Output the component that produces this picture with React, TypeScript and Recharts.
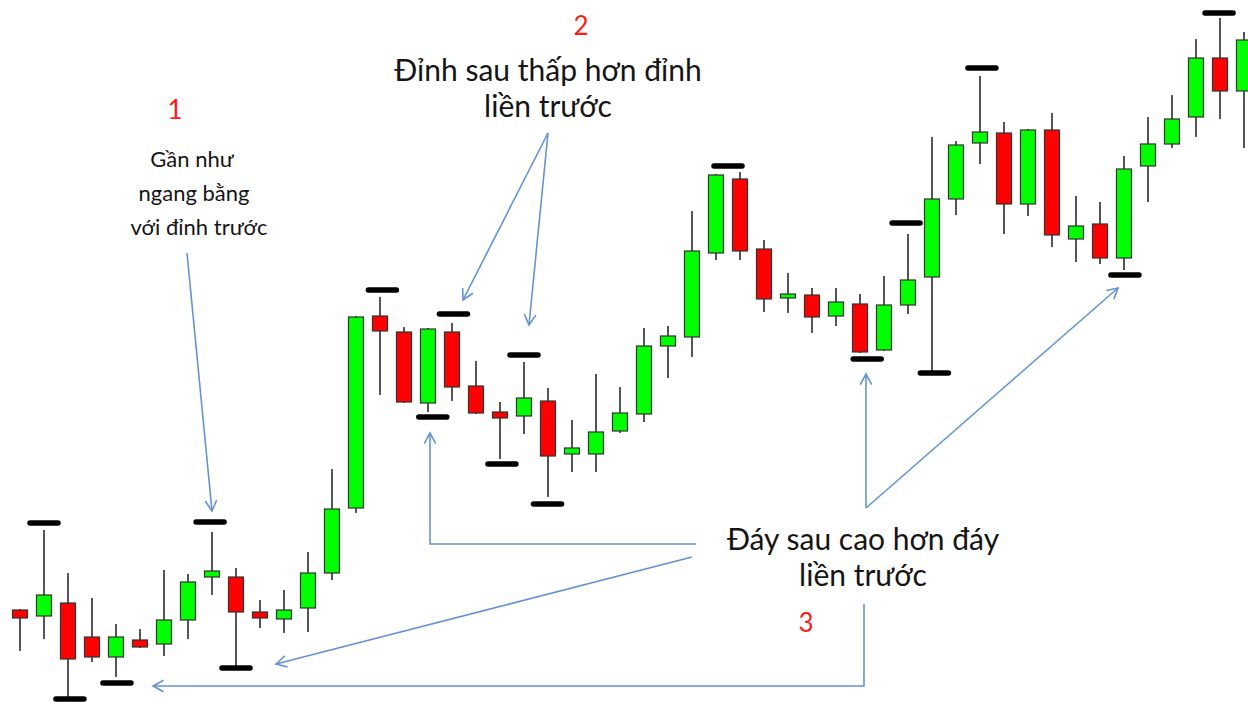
import { ComposedChart, Bar, Scatter, XAxis, YAxis } from "recharts";

// price values, one candle per index
const opens = [
    92, 86, 99, 65, 45, 62, 58, 82, 125, 125, 90, 83, 94, 129, 194, 386, 370, 299, 370, 316,
    290, 286, 301, 248, 248, 271, 288, 356, 365, 449, 523, 453, 404, 407, 386, 398, 352, 397, 425, 503,
    559, 569, 498, 572, 463, 478, 444, 536, 558, 585, 644, 611,
];
const highs = [
    93, 172, 129, 104, 78, 73, 132, 128, 170, 134, 102, 112, 150, 233, 386, 405, 375, 374, 379, 341,
    300, 340, 314, 282, 328, 315, 374, 376, 491, 528, 530, 462, 429, 414, 414, 408, 426, 468, 565, 561,
    626, 580, 573, 589, 506, 500, 546, 585, 607, 663, 684, 670,
];
const lows = [
    51, 63, 5, 40, 25, 54, 46, 63, 107, 35, 74, 69, 70, 122, 189, 307, 299, 290, 301, 288,
    243, 268, 205, 230, 230, 269, 280, 324, 345, 442, 442, 390, 389, 369, 376, 349, 351, 388, 330, 487,
    538, 468, 486, 455, 440, 438, 432, 500, 554, 565, 583, 554,
];
const closes = [
    84, 107, 43, 45, 65, 55, 82, 120, 131, 90, 84, 92, 129, 193, 385, 371, 300, 373, 315, 289,
    284, 304, 246, 254, 270, 289, 356, 366, 451, 527, 451, 403, 408, 385, 400, 350, 397, 422, 503, 557,
    570, 498, 572, 467, 476, 444, 533, 558, 583, 644, 611, 662,
];

// swing markers: candle position and price level
const peakPos = [1, 7.92, 15.1, 18.06, 21, 29.5, 36.92, 40.08, 49.96];
const peakLevels = [179, 180, 412, 388, 347, 536, 479, 634, 689];
const troughPos = [2.08, 4.04, 9, 17.2, 20.08, 21.98, 35.3, 38.1, 46.04];
const troughLevels = [3, 19, 34, 285, 238, 198, 343, 329, 427];

const candles = opens.map((o, i) => ({ i, o, h: highs[i], l: lows[i], c: closes[i] }));
const peaks = peakPos.map((i, k) => ({ i, p: peakLevels[k] }));
const troughs = troughPos.map((i, k) => ({ i, p: troughLevels[k] }));

const W = 1248;
const H = 702;
const ARROW = "#6494d0";
const FONT = "Lato, 'Noto Sans', sans-serif";

function Candle(props: any) {
    const { x, y, width, height, payload } = props;
    if (!payload) return null;
    const top = Math.min(y, y + height);
    const h = Math.abs(height);
    const cx = x + width / 2;
    const span = payload.h - payload.l || 1;
    const toY = (v: number) => top + ((payload.h - v) / span) * h;
    const up = payload.c >= payload.o;
    const bTop = toY(Math.max(payload.o, payload.c));
    const bBot = toY(Math.min(payload.o, payload.c));
    return (
        <g>
            <line x1={cx} x2={cx} y1={top} y2={top + h} stroke="#555" strokeWidth={2} />
            <rect
                x={cx - 7.5}
                y={bTop}
                width={15}
                height={Math.max(bBot - bTop, 1)}
                fill={up ? "#00ff00" : "#ff0000"}
                stroke="#333"
                strokeWidth={1.2}
            />
        </g>
    );
}

function Marker(props: any) {
    const { cx, cy } = props;
    return <line x1={cx - 14} x2={cx + 14} y1={cy} y2={cy} stroke="#000" strokeWidth={5.5} strokeLinecap="round" />;
}

function Arrow({ pts }: { pts: number[][] }) {
    const n = pts.length;
    const [x1, y1] = pts[n - 2];
    const [x2, y2] = pts[n - 1];
    const a = Math.atan2(y2 - y1, x2 - x1);
    const len = 12;
    const spread = 0.5;
    const h1 = [x2 - len * Math.cos(a - spread), y2 - len * Math.sin(a - spread)];
    const h2 = [x2 - len * Math.cos(a + spread), y2 - len * Math.sin(a + spread)];
    return (
        <g stroke={ARROW} strokeWidth={1.6} fill="none">
            <polyline points={pts.map((p) => p.join(",")).join(" ")} />
            <polyline points={`${h1[0]},${h1[1]} ${x2},${y2} ${h2[0]},${h2[1]}`} />
        </g>
    );
}

function Annotations() {
    const txt = { fontFamily: FONT, fill: "#151515", textAnchor: "middle" as const };
    const red = { fontFamily: FONT, fill: "#ff1a1a", textAnchor: "middle" as const, fontSize: 26 };
    return (
        <svg width={W} height={H} style={{ position: "absolute", left: 0, top: 0, pointerEvents: "none" }}>
            <Arrow pts={[[187, 253], [212, 511]]} />
            <Arrow pts={[[548, 133], [463, 300]]} />
            <Arrow pts={[[548, 133], [529, 325]]} />
            <Arrow pts={[[696, 544], [430, 544], [430, 433]]} />
            <Arrow pts={[[692, 557], [276, 664]]} />
            <Arrow pts={[[864, 604], [864, 686], [153, 686]]} />
            <Arrow pts={[[866, 508], [866, 374]]} />
            <Arrow pts={[[866, 508], [1118, 288]]} />

            <text x={175} y={119} {...red}>1</text>
            <text {...txt} fontSize={22}>
                <tspan x={192} y={167}>Gần như</tspan>
                <tspan x={194} y={201}>ngang bằng</tspan>
                <tspan x={199} y={235}>với đỉnh trước</tspan>
            </text>

            <text x={581} y={35} {...red}>2</text>
            <text {...txt} fontSize={30}>
                <tspan x={548} y={81}>Đỉnh sau thấp hơn đỉnh</tspan>
                <tspan x={548} y={117}>liền trước</tspan>
            </text>

            <text {...txt} fontSize={30}>
                <tspan x={863} y={550}>Đáy sau cao hơn đáy</tspan>
                <tspan x={863} y={586}>liền trước</tspan>
            </text>
            <text x={806} y={632} {...red}>3</text>
        </svg>
    );
}

export default function App() {
    return (
        <div style={{ position: "absolute", left: 0, top: 0, width: W, height: H, overflow: "hidden", background: "#fff" }}>
            <ComposedChart width={W} height={H} data={candles} margin={{ top: 0, right: 0, bottom: 0, left: 0 }}>
                <XAxis dataKey="i" type="number" domain={[-20 / 24, 1228 / 24]} allowDataOverflow hide />
                <YAxis type="number" domain={[0, 702]} allowDataOverflow hide />
                <Bar dataKey={(d: any) => [d.l, d.h]} barSize={16} shape={<Candle />} isAnimationActive={false} />
                <Scatter data={peaks} dataKey="p" shape={<Marker />} isAnimationActive={false} />
                <Scatter data={troughs} dataKey="p" shape={<Marker />} isAnimationActive={false} />
            </ComposedChart>
            <Annotations />
        </div>
    );
}
